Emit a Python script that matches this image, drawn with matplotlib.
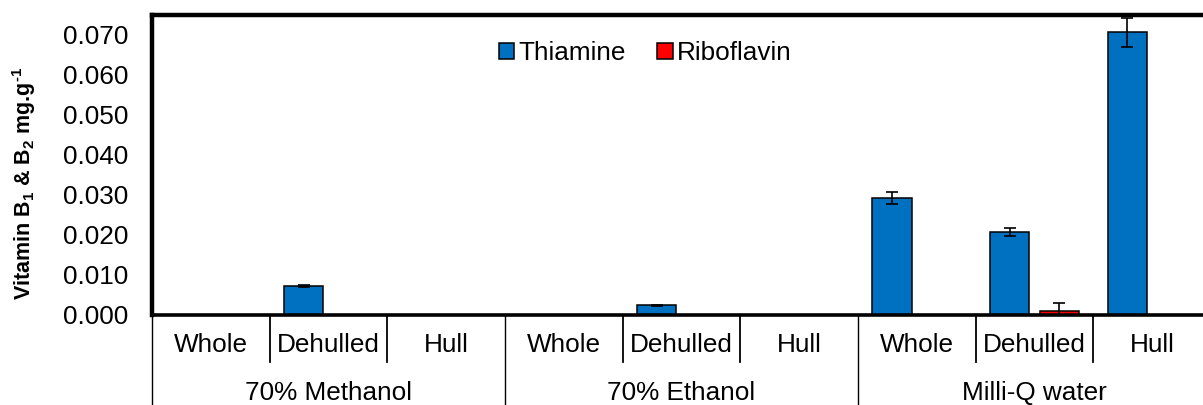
import numpy as np
import matplotlib
matplotlib.use("Agg")
import matplotlib.pyplot as plt
from matplotlib.patches import Patch

plt.rcParams['font.family'] = ['Liberation Sans', 'DejaVu Sans']
plt.rcParams['mathtext.fontset'] = 'custom'
plt.rcParams['mathtext.rm'] = 'Liberation Sans:bold'
plt.rcParams['mathtext.it'] = 'Liberation Sans:bold'
plt.rcParams['mathtext.bf'] = 'Liberation Sans:bold'

# Data
solvents = ["70% Methanol", "70% Ethanol", "Milli-Q water"]
fractions = ["Whole", "Dehulled", "Hull"]
thiamine = [0.0, 0.0072, 0.0, 0.0, 0.0024, 0.0, 0.0293, 0.0208, 0.0707]
thiamine_err = [0.0, 0.0002, 0.0, 0.0, 0.0001, 0.0, 0.0015, 0.0010, 0.0036]
riboflavin = [0.0, 0.0, 0.0, 0.0, 0.0, 0.0, 0.0, 0.0010, 0.0]
riboflavin_err = [0.0, 0.0, 0.0, 0.0, 0.0, 0.0, 0.0, 0.0020, 0.0]
yticks = [0.000, 0.010, 0.020, 0.030, 0.040, 0.050, 0.060, 0.070]

W, H = 1203, 405
fig = plt.figure(figsize=(W / 100, H / 100), dpi=100)
ax_left, ax_right, ax_bottom, ax_top = 152, 1211, 315, 15
ax = fig.add_axes([ax_left / W, (H - ax_bottom) / H,
                   (ax_right - ax_left) / W, (ax_bottom - ax_top) / H])

n = len(thiamine)
x = np.arange(n)
bw = 0.335
off = 0.21
blue = '#0070C0'
red = '#FF0000'

ax.bar(x - off, thiamine, bw, color=blue, edgecolor='black', linewidth=1.1, zorder=2)
ax.bar(x + off, riboflavin, bw, color=red, edgecolor='black', linewidth=1.1, zorder=2)

t_idx = [i for i in range(n) if thiamine_err[i] > 0]
r_idx = [i for i in range(n) if riboflavin_err[i] > 0]
ax.errorbar(x[t_idx] - off, [thiamine[i] for i in t_idx],
            yerr=[thiamine_err[i] for i in t_idx], fmt='none', ecolor='black',
            elinewidth=1.2, capsize=4.5, capthick=1.2, zorder=3)
ax.errorbar(x[r_idx] + off, [riboflavin[i] for i in r_idx],
            yerr=[riboflavin_err[i] for i in r_idx], fmt='none', ecolor='black',
            elinewidth=1.2, capsize=4.5, capthick=1.2, zorder=3)

ax.set_xlim(-0.5, n - 0.5)
ax.set_ylim(0, 0.075)
ax.set_yticks(yticks)
ax.set_yticklabels([f"{v:.3f}" for v in yticks], fontsize=18.8)
ax.tick_params(axis='y', length=0, pad=17)
ax.set_xticks([])

for side in ['top', 'left']:
    ax.spines[side].set_linewidth(3.2)
ax.spines['bottom'].set_linewidth(2.6)
ax.spines['bottom'].set_zorder(4)
ax.spines['right'].set_visible(False)

ax.set_ylabel("Vitamin B$_1$ & B$_2$ mg.g$^{\u2010 1}$", fontsize=15.5, fontweight='bold')
ax.yaxis.set_label_coords(-0.108, 0.44)

# Two-level category axis below the plot
tr = ax.get_xaxis_transform()
px = 1.0 / (ax_bottom - ax_top)
for i in range(n):
    ax.text(x[i], -30 * px, fractions[i % 3], transform=tr, ha='center', va='center',
            fontsize=18.8)
for b in range(1, n):
    if b % 3 != 0:
        ax.plot([b - 0.5, b - 0.5], [0, -47 * px], transform=tr, color='black',
                lw=1.3, clip_on=False)
for g in range(len(solvents) + 1):
    ax.plot([3 * g - 0.5, 3 * g - 0.5], [0, -100 * px], transform=tr, color='black',
            lw=1.0, clip_on=False)
for g, name in enumerate(solvents):
    ax.text(3 * g + 1, -78 * px, name, transform=tr, ha='center', va='center',
            fontsize=18.8)

handles = [Patch(facecolor=blue, edgecolor='black', linewidth=1.1, label='Thiamine'),
           Patch(facecolor=red, edgecolor='black', linewidth=1.1, label='Riboflavin')]
ax.legend(handles=handles, loc='center', bbox_to_anchor=((645 - ax_left) / (ax_right - ax_left),
          (ax_bottom - 53) / (ax_bottom - ax_top)), ncol=2, frameon=False, fontsize=18.8,
          handlelength=0.6, handleheight=0.6, handletextpad=0.15, columnspacing=1.2)

fig.savefig("out.png", dpi=100)
